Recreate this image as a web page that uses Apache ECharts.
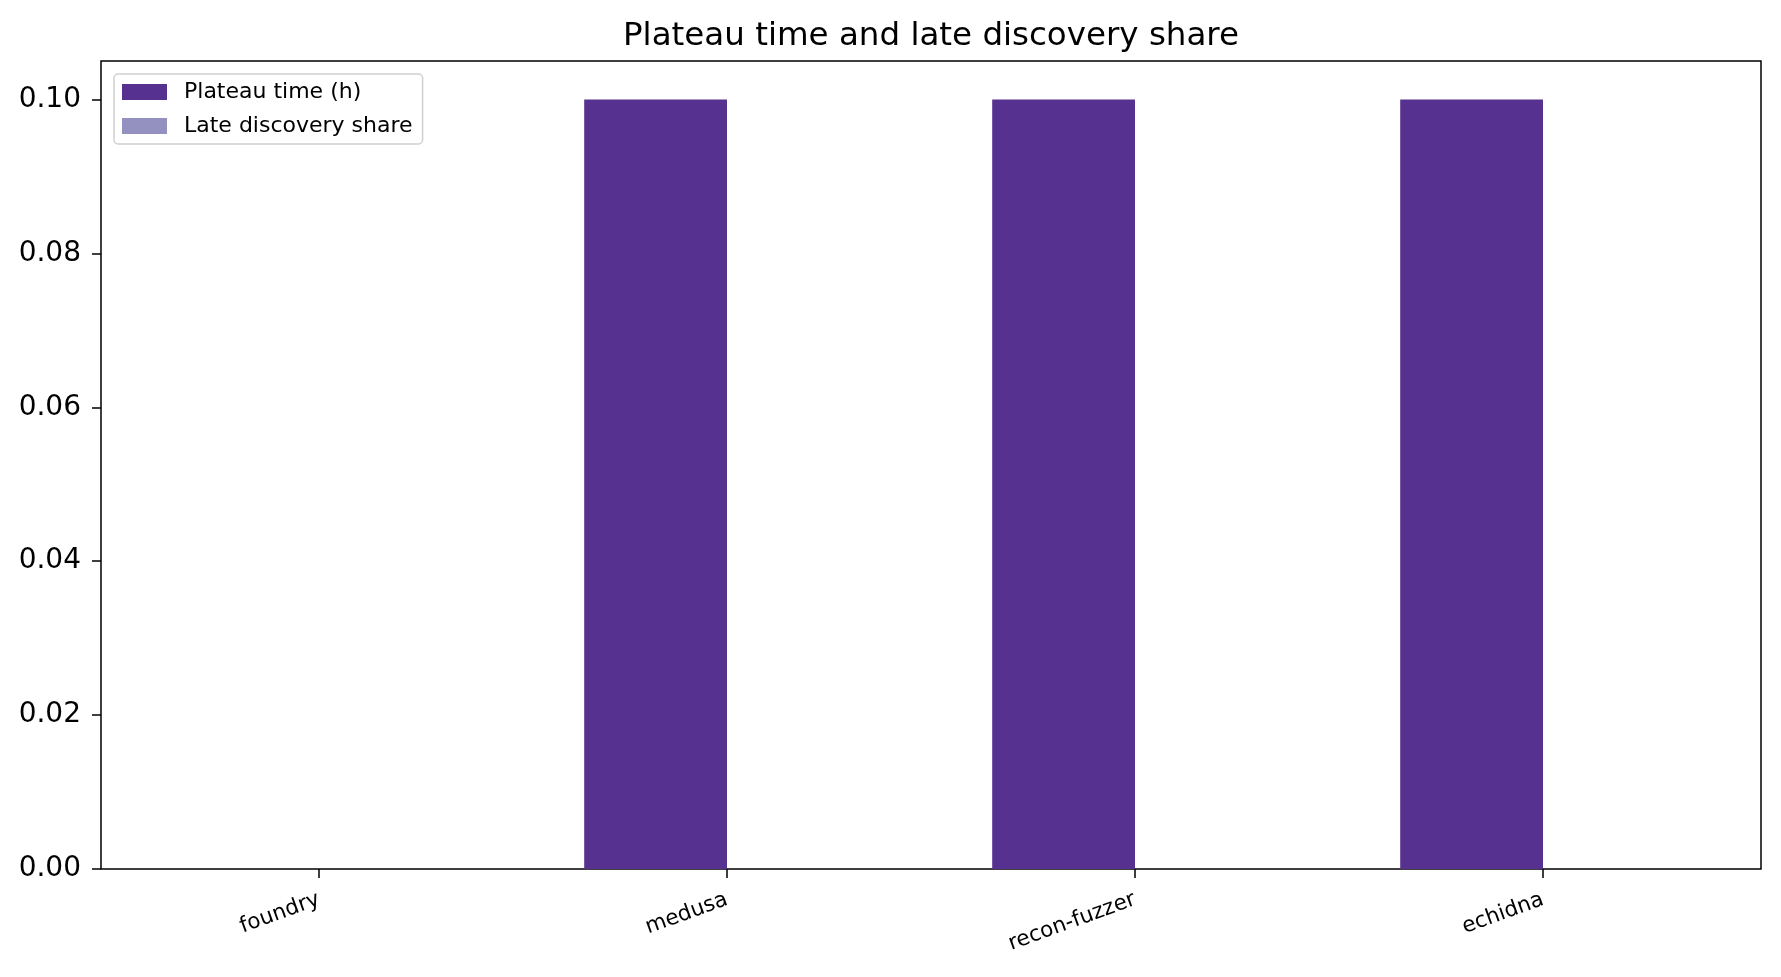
<!DOCTYPE html>
<html style="height: 100%">
<head>
	<meta charset="utf-8">
	<script type="text/javascript" src="https://cdn.jsdelivr.net/npm/echarts@6/dist/echarts.min.js"></script>
	<style>
	body{
		margin:0;
		background:#fff;
	}
	</style>
</head>
<body style="height: 100%; margin: 0">
	<div id="container" style="width:1781px; height:977px;"></div>
	<script>
	// data
	var tools = ['foundry', 'medusa', 'recon-fuzzer', 'echidna'];
	var plateauHours = [0, 0.1, 0.1, 0.1];
	var lateShare = [0, 0, 0, 0];
	var yTicks = [0, 0.02, 0.04, 0.06, 0.08, 0.10];

	var font = 'DejaVu Sans';
	var myChart = echarts.init(document.getElementById('container'));

	var option = {
		animation: false,
		backgroundColor: '#fff',
		title: {
			text: 'Plateau time and late discovery share',
			left: 931,
			top: 20,
			padding: 0,
			textAlign: 'center',
			textStyle: {fontFamily: font, fontSize: 32.5, fontWeight: 'normal', color: '#000'}
		},
		legend: {
			orient: 'vertical',
			left: 114,
			top: 74,
			padding: [7, 10, 7, 8],
			itemWidth: 45,
			itemHeight: 16,
			itemGap: 12,
			icon: 'rect',
			itemStyle: {borderWidth: 0},
			borderColor: '#d0d0d0',
			borderWidth: 1.5,
			borderRadius: 4,
			backgroundColor: 'rgba(255,255,255,0.8)',
			textStyle: {fontFamily: font, fontSize: 22, color: '#000', padding: [0, 0, 0, 12]},
			data: ['Plateau time (h)', 'Late discovery share']
		},
		grid: [
			// frame of the axes
			{left: 101, top: 61, width: 1660, height: 808, show: true, borderColor: '#000', borderWidth: 1.5, backgroundColor: 'transparent'},
			// band area for the categories (matplotlib margins)
			{left: 115, top: 61, width: 1632, height: 808}
		],
		xAxis: [
			{gridIndex: 0, type: 'value', min: 0, max: 1, show: false},
			{
				gridIndex: 1,
				type: 'category',
				data: tools,
				axisLine: {show: false},
				axisTick: {show: true, alignWithLabel: true, length: 9, lineStyle: {color: '#000', width: 1.5}},
				axisLabel: {rotate: 20, margin: 30, fontFamily: font, fontSize: 21.5, color: '#000', interval: 0},
				splitLine: {show: false}
			}
		],
		yAxis: [
			{
				gridIndex: 0,
				type: 'value',
				min: 0,
				max: 0.105,
				axisLine: {show: false},
				axisTick: {show: true, length: 9, customValues: yTicks, lineStyle: {color: '#000', width: 1.5}},
				axisLabel: {
					margin: 20,
					fontFamily: font,
					fontSize: 28,
					color: '#000',
					customValues: yTicks,
					formatter: function (v) { return v.toFixed(2); }
				},
				splitLine: {show: false}
			},
			{gridIndex: 1, type: 'value', min: 0, max: 0.105, show: false}
		],
		series: [
			{
				name: 'Plateau time (h)',
				type: 'bar',
				xAxisIndex: 1,
				yAxisIndex: 1,
				barWidth: '35%',
				barGap: '0%',
				itemStyle: {color: '#56318f'},
				data: plateauHours
			},
			{
				name: 'Late discovery share',
				type: 'bar',
				xAxisIndex: 1,
				yAxisIndex: 1,
				barWidth: '35%',
				barGap: '0%',
				itemStyle: {color: '#9491c1'},
				data: lateShare
			}
		]
	};

	myChart.setOption(option);
	</script>
</body>
</html>
